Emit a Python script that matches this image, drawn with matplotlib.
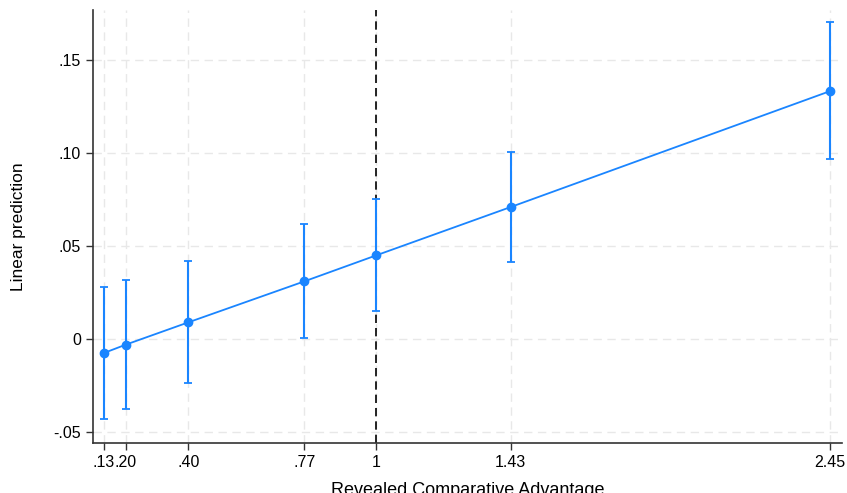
import numpy as np
import matplotlib
matplotlib.use('Agg')
import matplotlib.pyplot as plt

plt.rcParams['font.family'] = ['Liberation Sans', 'DejaVu Sans']

# RCA values at which predictions were evaluated
rca = [0.13, 0.20, 0.40, 0.77, 1.00, 1.43, 2.45]
rca_labels = ['.13', '.20', '.40', '.77', '1', '1.43', '2.45']
pred = [-0.0075, -0.003, 0.009, 0.031, 0.045, 0.071, 0.1333]
ci_low = [-0.043, -0.0376, -0.0237, 0.0005, 0.015, 0.0414, 0.0968]
ci_high = [0.028, 0.0317, 0.042, 0.062, 0.0753, 0.1005, 0.1705]
yticks = [-0.05, 0, 0.05, 0.10, 0.15]
ytick_labels = ['-.05', '0', '.05', '.10', '.15']

col = '#1a85ff'

fig = plt.figure(figsize=(8.47, 4.93), dpi=100)
ax = fig.add_axes([0.1098, 0.1014, 0.8843, 0.8783])

pred = np.array(pred)
yerr = [pred - np.array(ci_low), np.array(ci_high) - pred]
ax.errorbar(rca, pred, yerr=yerr, color=col, lw=1.3, marker='o', ms=6,
            capsize=3, capthick=1.3, elinewidth=1.5, zorder=3)

ax.axvline(1, color='black', ls=(0, (5, 3)), lw=1.2, zorder=2)

ax.set_xlim(0.095, 2.488)
ax.set_ylim(-0.0559, 0.1769)
ax.set_xticks(rca)
ax.set_xticklabels(rca_labels)
ax.set_yticks(yticks)
ax.set_yticklabels(ytick_labels)
ax.grid(True, color='#e8e8e8', ls=(0, (6, 4)), lw=1, zorder=0)
ax.set_axisbelow(True)

for s in ['top', 'right']:
    ax.spines[s].set_visible(False)
for s in ['left', 'bottom']:
    ax.spines[s].set_color('#333333')
    ax.spines[s].set_linewidth(1.2)
ax.tick_params(colors='#333333', labelcolor='black', labelsize=11.5, length=5, width=1)

ax.set_xlabel('Revealed Comparative Advantage', fontsize=13, labelpad=9)
ax.set_ylabel('Linear prediction', fontsize=12.5, labelpad=20)

fig.savefig('out.png', dpi=100)
